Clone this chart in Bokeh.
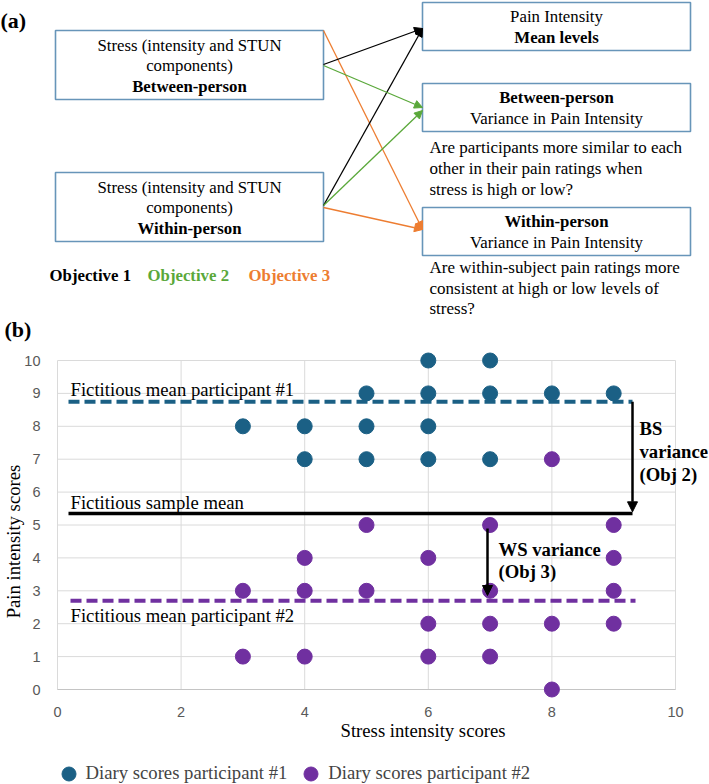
import math
from bokeh.plotting import figure
from bokeh.models import Range1d, Arrow, NormalHead, Legend, LegendItem
from bokeh.layouts import column
from bokeh.core.properties import value
from bokeh.embed import file_html
from bokeh.resources import INLINE

# ---------------- data ----------------
p1_x = [6, 7, 5, 6, 7, 8, 9, 3, 4, 5, 6, 4, 5, 6, 7]
p1_y = [10, 10, 9, 9, 9, 9, 9, 8, 8, 8, 8, 7, 7, 7, 7]
p2_x = [8, 5, 7, 9, 4, 6, 9, 3, 4, 5, 7, 9, 6, 7, 8, 9, 3, 4, 6, 7, 8]
p2_y = [7, 5, 5, 5, 4, 4, 4, 3, 3, 3, 3, 3, 2, 2, 2, 2, 1, 1, 1, 1, 0]
mean_p1 = 8.75
mean_sample = 5.35
mean_p2 = 2.7
x_ticks = [0, 2, 4, 6, 8, 10]
y_ticks = [0, 1, 2, 3, 4, 5, 6, 7, 8, 9, 10]
x_tick_labels = [str(t) for t in x_ticks]
y_tick_labels = [str(t) for t in y_ticks]

SERIF = "Liberation Serif"
SANS = "Liberation Sans"
TEAL = "#1b6085"
PURPLE = "#7030a0"
GREEN = "#5aa83a"
ORANGE = "#ed7d31"
BOXC = "#6795b9"

W = 709
TOP_H = 345
BOT_H = 784 - TOP_H

# ---------------- panel (a) ----------------
a = figure(width=W, height=TOP_H, x_range=Range1d(0, W), y_range=Range1d(TOP_H, 0),
           output_backend="svg", toolbar_location=None, min_border=0)
a.axis.visible = False
a.grid.visible = False
a.outline_line_color = None

boxes_left = [55, 55, 422, 422, 422]
boxes_right = [323, 323, 690, 690, 690]
boxes_top = [30, 172, 2, 83, 207]
boxes_bottom = [99, 241, 50, 131, 255]
a.quad(left=boxes_left, right=boxes_right, top=boxes_top, bottom=boxes_bottom,
       fill_color="white", line_color=BOXC, line_width=1.6)

def txt(fig, x, y, s, bold=False, align="center", size="16.8px", color="black",
        font=SERIF, angle=0):
    fig.text(x=[x], y=[y], text=[s], text_font=value(font), text_font_size=size,
             text_font_style="bold" if bold else "normal", text_align=align,
             text_baseline="middle", text_color=color, angle=angle)

txt(a, 189, 45, "Stress (intensity and STUN")
txt(a, 189, 65, "components)")
txt(a, 189, 86, "Between-person", bold=True)
txt(a, 189, 187, "Stress (intensity and STUN")
txt(a, 189, 207, "components)")
txt(a, 189, 228, "Within-person", bold=True)
txt(a, 556, 16, "Pain Intensity")
txt(a, 556, 37, "Mean levels", bold=True)
txt(a, 556, 97, "Between-person", bold=True)
txt(a, 556, 118, "Variance in Pain Intensity")
txt(a, 556, 221, "Within-person", bold=True)
txt(a, 556, 242, "Variance in Pain Intensity")
for i, s in enumerate(["Are participants more similar to each",
                       "other in their pain ratings when",
                       "stress is high or low?"]):
    txt(a, 429, 147 + 21 * i, s, align="left", size="17px")
for i, s in enumerate(["Are within-subject pain ratings more",
                       "consistent at high or low levels of",
                       "stress?"]):
    txt(a, 429, 267 + 20.5 * i, s, align="left", size="17px")

txt(a, 49, 275, "Objective 1", bold=True, align="left")
txt(a, 147, 275, "Objective 2", bold=True, align="left", color=GREEN)
txt(a, 248, 275, "Objective 3", bold=True, align="left", color=ORANGE)
txt(a, 0, 20, "(a)", bold=True, align="left", size="22px")
txt(a, 4, 329, "(b)", bold=True, align="left", size="22px")

def arr(fig, x0, y0, x1, y1, color, lw=1.3, size=8):
    fig.add_layout(Arrow(end=NormalHead(size=size, fill_color=color, line_color=color),
                         x_start=x0, y_start=y0, x_end=x1, y_end=y1,
                         line_color=color, line_width=lw))

arr(a, 323, 30, 422, 229, ORANGE)
arr(a, 323, 207, 422, 229, ORANGE)
arr(a, 323, 64, 422, 28, "black")
arr(a, 323, 205, 422, 28, "black")
arr(a, 323, 65, 422, 107, GREEN)
arr(a, 323, 205, 422, 110, GREEN)

# ---------------- panel (b) ----------------
# plot area: x 0..10 -> 57..675 px, y 0..10 -> 689..360 px (page coordinates)
SX = 61.8
SY = 32.9
def X(px):
    return (px - 57) / SX
def Y(py):
    return (689 - py) / SY

b = figure(width=W, height=BOT_H, x_range=Range1d(X(0), X(W)),
           y_range=Range1d(Y(784), Y(TOP_H)),
           output_backend="svg", toolbar_location=None, min_border=0)
b.axis.visible = False
b.grid.visible = False
b.outline_line_color = None

GRID = "#dadada"
b.segment(x0=x_ticks, y0=y_ticks[0], x1=x_ticks, y1=y_ticks[-1], line_color=GRID, line_width=1)
b.segment(x0=x_ticks[0], y0=y_ticks, x1=x_ticks[-1], y1=y_ticks, line_color=GRID, line_width=1)
b.line(x=[x_ticks[0], x_ticks[-1]], y=[y_ticks[0], y_ticks[0]], line_color="#c4c4c4", line_width=1.2)
b.text(x=x_ticks, y=Y(711), text=x_tick_labels, text_font=value(SANS), text_font_size="14.5px",
       text_color="#595959", text_align="center", text_baseline="middle")
b.text(x=X(40), y=y_ticks, text=y_tick_labels, text_font=value(SANS), text_font_size="14.5px",
       text_color="#595959", text_align="right", text_baseline="middle")

b.line(x=[X(68), X(632)], y=[mean_p1, mean_p1], line_color=TEAL, line_width=4, line_dash="11 5")
b.line(x=[X(70), X(635)], y=[mean_p2, mean_p2], line_color=PURPLE, line_width=4, line_dash="11 5")
b.line(x=[X(68), X(632)], y=[mean_sample, mean_sample], line_color="black", line_width=3.5)

r1 = b.scatter(x=p1_x, y=p1_y, size=15, fill_color=TEAL, line_color=TEAL)
r2 = b.scatter(x=p2_x, y=p2_y, size=15, fill_color=PURPLE, line_color=PURPLE)

b.add_layout(Arrow(end=NormalHead(size=10, fill_color="black", line_color="black"),
                   x_start=X(632), y_start=mean_p1, x_end=X(632), y_end=mean_sample + 0.05,
                   line_color="black", line_width=2.5))
b.add_layout(Arrow(end=NormalHead(size=10, fill_color="black", line_color="black"),
                   x_start=X(487), y_start=Y(528), x_end=X(487), y_end=Y(595),
                   line_color="black", line_width=2.5))

FS = "18.7px"
txt(b, X(70), Y(389), "Fictitious mean participant #1", align="left", size=FS)
txt(b, X(70), Y(502), "Fictitious sample mean", align="left", size=FS)
txt(b, X(70), Y(615), "Fictitious mean participant #2", align="left", size=FS)
txt(b, X(639), Y(428), "BS", bold=True, align="left", size=FS)
txt(b, X(639), Y(451), "variance", bold=True, align="left", size=FS)
txt(b, X(639), Y(474), "(Obj 2)", bold=True, align="left", size=FS)
txt(b, X(498), Y(549), "WS variance", bold=True, align="left", size=FS)
txt(b, X(498), Y(571), "(Obj 3)", bold=True, align="left", size=FS)
txt(b, X(340), Y(730), "Stress intensity scores", align="left", size=FS)
txt(b, X(13), Y(541), "Pain intensity scores", align="center", size=FS, angle=math.pi / 2)

legend = Legend(items=[LegendItem(label="Diary scores participant #1", renderers=[r1]),
                       LegendItem(label="Diary scores participant #2", renderers=[r2])],
                orientation="horizontal", location=(50.5, -6.5),
                label_text_font=SERIF, label_text_font_size=FS,
                border_line_color=None, background_fill_alpha=0,
                padding=0, margin=0, spacing=6, glyph_width=35, glyph_height=35,
                label_standoff=0)
b.add_layout(legend, "center")

layout = column(a, b, spacing=0)
open("out.html", "w").write(file_html(layout, INLINE))
